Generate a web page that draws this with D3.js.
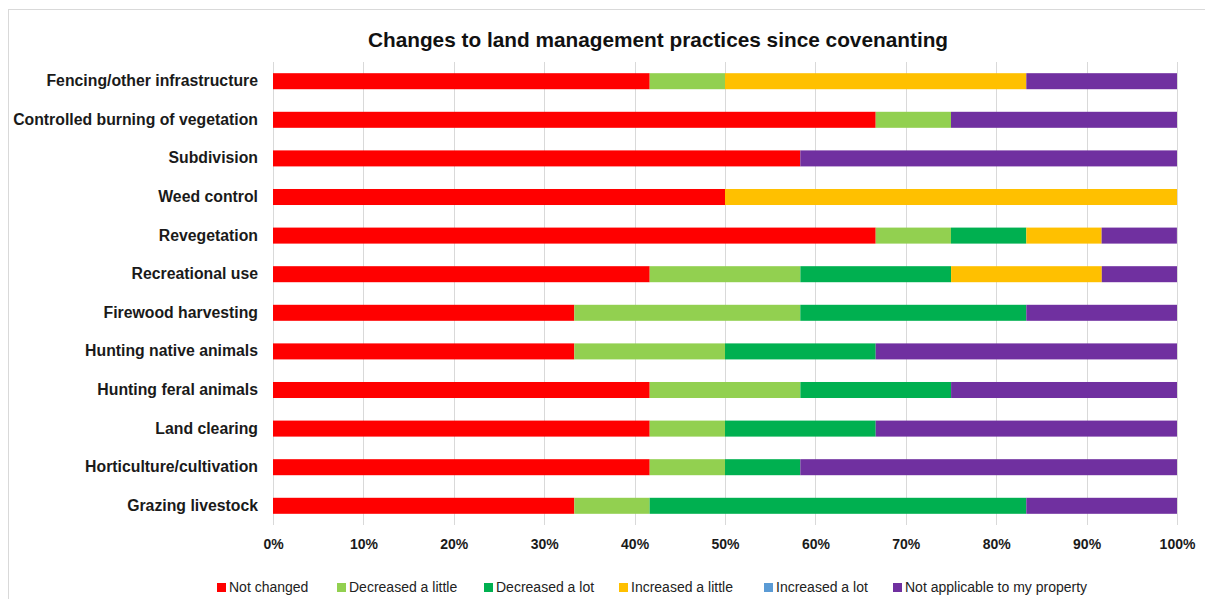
<!DOCTYPE html>
<html>
<head>
<meta charset="utf-8">
<script src="https://cdn.jsdelivr.net/npm/d3@7/dist/d3.min.js"></script>
<style>
  html, body { margin: 0; padding: 0; background: #fff; }
  svg { display: block; }
</style>
</head>
<body>
<svg id="chart" width="1205" height="599"></svg>
<script>
// Practices, top to bottom
const categories = [
  "Fencing/other infrastructure",
  "Controlled burning of vegetation",
  "Subdivision",
  "Weed control",
  "Revegetation",
  "Recreational use",
  "Firewood harvesting",
  "Hunting native animals",
  "Hunting feral animals",
  "Land clearing",
  "Horticulture/cultivation",
  "Grazing livestock"
];

const seriesNames = [
  "Not changed",
  "Decreased a little",
  "Decreased a lot",
  "Increased a little",
  "Increased a lot",
  "Not applicable to my property"
];

const seriesColors = ["#FF0000", "#92D050", "#00B050", "#FFC000", "#5B9BD5", "#7030A0"];

// Share of respondents (%) per practice, one array per response
const notChanged       = [41.67, 66.67, 58.33, 50.00, 66.67, 41.67, 33.33, 33.33, 41.67, 41.67, 41.67, 33.33];
const decreasedLittle  = [ 8.33,  8.33,  0.00,  0.00,  8.33, 16.67, 25.00, 16.67, 16.67,  8.33,  8.33,  8.33];
const decreasedLot     = [ 0.00,  0.00,  0.00,  0.00,  8.33, 16.67, 25.00, 16.67, 16.67, 16.67,  8.33, 41.67];
const increasedLittle  = [33.33,  0.00,  0.00, 50.00,  8.33, 16.67,  0.00,  0.00,  0.00,  0.00,  0.00,  0.00];
const increasedLot     = [ 0.00,  0.00,  0.00,  0.00,  0.00,  0.00,  0.00,  0.00,  0.00,  0.00,  0.00,  0.00];
const notApplicable    = [16.67, 25.00, 41.67,  0.00,  8.33,  8.33, 16.67, 33.33, 25.00, 33.33, 41.67, 16.67];

const tickValues = [0, 10, 20, 30, 40, 50, 60, 70, 80, 90, 100];

const title = "Changes to land management practices since covenanting";

const seriesValues = [notChanged, decreasedLittle, decreasedLot, increasedLittle, increasedLot, notApplicable];

const rows = categories.map((c, i) => {
  const r = { category: c };
  seriesNames.forEach((s, j) => { r[s] = seriesValues[j][i]; });
  return r;
});

const svg = d3.select("#chart");
const W = 1205, H = 599;
const margin = { left: 273, right: 28, top: 62, bottom: 74 };
const FONT = "'Liberation Sans', Arial, Helvetica, sans-serif";

// outer frame
svg.append("rect")
  .attr("x", 8.5).attr("y", 9.5)
  .attr("width", W + 10).attr("height", H + 10)
  .attr("fill", "#fff").attr("stroke", "#d9d9d9").attr("stroke-width", 1);

const x = d3.scaleLinear().domain([0, 100]).range([margin.left, W - margin.right]);
const y = d3.scaleBand().domain(categories)
  .range([margin.top, H - margin.bottom])
  .paddingInner(0.585).paddingOuter(0.29);

// vertical gridlines
svg.append("g")
  .selectAll("line")
  .data(tickValues)
  .join("line")
  .attr("x1", d => Math.round(x(d)) + 0.5)
  .attr("x2", d => Math.round(x(d)) + 0.5)
  .attr("y1", margin.top)
  .attr("y2", H - margin.bottom)
  .attr("stroke", "#d9d9d9")
  .attr("stroke-width", 1);

// stacked bars
const stack = d3.stack().keys(seriesNames);
const layers = stack(rows);

svg.append("g")
  .selectAll("g")
  .data(layers)
  .join("g")
  .attr("fill", (d, i) => seriesColors[i])
  .selectAll("rect")
  .data(d => d.filter(p => p[1] - p[0] > 0))
  .join("rect")
  .attr("x", d => x(d[0]))
  .attr("width", d => x(Math.min(d[1], 100)) - x(d[0]))
  .attr("y", d => y(d.data.category))
  .attr("height", y.bandwidth());

// x axis tick labels
const xAxis = d3.axisBottom(x)
  .tickValues(tickValues)
  .tickFormat(d => d + "%")
  .tickSize(0)
  .tickPadding(0);

const gx = svg.append("g")
  .attr("transform", `translate(0,${H - margin.bottom + 14})`)
  .call(xAxis);
gx.select(".domain").remove();
gx.selectAll("text")
  .attr("font-family", FONT)
  .attr("font-weight", "bold")
  .attr("font-size", 14)
  .attr("fill", "#1a1a1a");

// y axis category labels
const yAxis = d3.axisLeft(y).tickSize(0).tickPadding(15);
const gy = svg.append("g")
  .attr("transform", `translate(${margin.left},0)`)
  .call(yAxis);
gy.select(".domain").remove();
gy.selectAll("text")
  .attr("font-family", FONT)
  .attr("font-weight", "bold")
  .attr("font-size", 15.8)
  .attr("fill", "#1a1a1a");

// title
svg.append("text")
  .attr("x", 658)
  .attr("y", 47)
  .attr("text-anchor", "middle")
  .attr("font-family", FONT)
  .attr("font-weight", "bold")
  .attr("font-size", 20.8)
  .attr("fill", "#111")
  .text(title);

// legend
const legendX = [217, 337, 484, 619, 764, 893];
const legend = svg.append("g")
  .selectAll("g")
  .data(seriesNames)
  .join("g")
  .attr("transform", (d, i) => `translate(${legendX[i]},583)`);

legend.append("rect")
  .attr("width", 9).attr("height", 9)
  .attr("fill", (d, i) => seriesColors[i]);

legend.append("text")
  .attr("x", 12)
  .attr("y", 9)
  .attr("font-family", FONT)
  .attr("font-size", 14)
  .attr("fill", "#222")
  .text(d => d);
</script>
</body>
</html>
